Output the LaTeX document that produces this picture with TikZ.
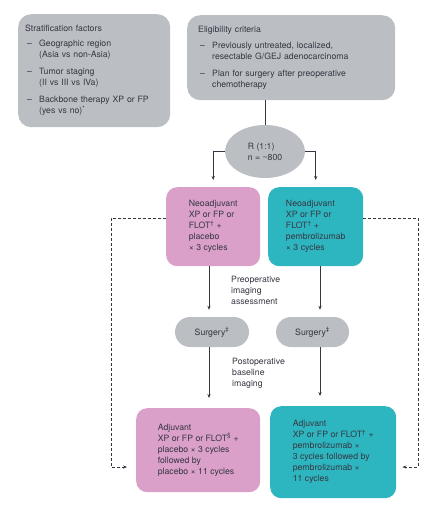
\documentclass[tikz,border=0pt]{standalone}
\usepackage{fontspec}
\setmainfont{TeX Gyre Heros}
\usepackage{tikz}
\usetikzlibrary{positioning}
\usetikzlibrary{shapes.geometric}
\usetikzlibrary{arrows.meta}
\definecolor{boxgray}{HTML}{BBBFC4}
\definecolor{armpink}{HTML}{DAA0C9}
\definecolor{armteal}{HTML}{2EB6C0}
\definecolor{inkgray}{HTML}{363642}
\newcommand{\critem}[2][6pt]{\par\vspace{#1}\hangindent=14pt\hangafter=1\noindent\makebox[14pt][l]{\hspace{2pt}–}#2}

\begin{document}
\begin{tikzpicture}[ x=1pt, y=-1pt,
    >={Stealth[length=4pt,width=3.2pt]},
    every node/.style={text=inkgray, font=\fontsize{8.7}{11}\selectfont},
    panel/.style={fill=boxgray, rounded corners=13pt, anchor=north west,
        align=left, inner ysep=0pt},
    arm/.style={rounded corners=11pt, anchor=north west, align=left, inner sep=0pt},
    pill/.style={fill=boxgray, rounded corners=15pt, minimum height=30pt, inner sep=0pt},
    flow/.style={->, draw=inkgray, line width=0.6pt, shorten >=7pt},
    crossover/.style={->, draw=inkgray, line width=0.6pt, dash pattern=on 3pt off 2pt} ]
    \useasboundingbox (0,0) rectangle (435,513);
    % columns and rows of the connectors
    \coordinate (colP) at (209,0);
    \coordinate (colT) at (320,0);
    \coordinate (dashtop) at (0,218);
    \coordinate (dashbot) at (0,467);
    \coordinate (dashL) at (111,0);
    \coordinate (dashR) at (418,0);
    % top panels
    \node (strat) [panel, text width=138pt, inner xsep=7pt, minimum height=113pt] at (18,14) {%
        Stratification factors
        \critem[4pt]{Geographic region\newline(Asia vs non-Asia)}
        \critem{Tumor staging\newline(II vs III vs IVa)}
        \critem{Backbone therapy XP or FP\newline(yes vs no)\textsuperscript{*}}\par};
    \node (elig) [panel, text width=186pt, inner xsep=11pt, minimum height=85pt] at (187,15) {%
        Eligibility criteria
        \critem[5pt]{Previously untreated, localized,\newline resectable G/GEJ adenocarcinoma}
        \critem{Plan for surgery after preoperative\newline chemotherapy}\par};
    \node (rand) [ellipse, fill=boxgray, minimum width=80pt, minimum height=53pt,
        align=left, inner sep=0pt] at (265,151.5) {R (1:1)\\n = \textasciitilde800};
    % arms
    \node (neoP) [arm, fill=armpink, minimum width=94pt, minimum height=79pt] at (166,187)
        {Neoadjuvant\\XP or FP or\\FLOT\textsuperscript{†} +\\placebo\\× 3 cycles};
    \node (neoT) [arm, fill=armteal, minimum width=95pt, minimum height=79pt] at (268,187)
        {Neoadjuvant\\XP or FP or\\FLOT\textsuperscript{†} +\\pembrolizumab\\× 3 cycles};
    \node (surgP) [pill, minimum width=74pt] at (212,332) {Surgery\textsuperscript{‡}};
    \node (surgT) [pill, minimum width=73pt] at (312.5,332) {Surgery\textsuperscript{‡}};
    \node (adjP) [arm, fill=armpink, minimum width=124pt, minimum height=84pt] at (136,408)
        {Adjuvant\\XP or FP or FLOT\textsuperscript{§} +\\placebo × 3 cycles\\followed by\\placebo × 11 cycles};
    \node (adjT) [arm, fill=armteal, minimum width=126pt, minimum height=92pt] at (270,406)
        {Adjuvant\\XP or FP or FLOT\textsuperscript{†} +\\pembrolizumab ×\\3 cycles followed by\\pembrolizumab ×\\11 cycles};
    \node (preimg) [anchor=west, align=left, inner sep=0pt] at (231,290)
        {Preoperative\\imaging\\assessment};
    \node (postimg) [anchor=west, align=left, inner sep=0pt] at (232,373)
        {Postoperative\\baseline\\imaging};
    % connectors
    \draw [draw=inkgray, line width=0.6pt] (elig.south -| rand) -- (rand.north);
    \draw [flow] (rand.west) -| (neoP.north);
    \draw [flow] (rand.east) -| (neoT.north);
    \draw [flow] (neoP.south -| colP) -- (surgP.north -| colP);
    \draw [flow] (neoT.south -| colT) -- (surgT.north -| colT);
    \draw [flow, shorten >=10pt] (surgP.south -| colP) -- (adjP.north -| colP);
    \draw [flow, shorten >=10pt] (surgT.south -| colT) -- (adjT.north -| colT);
    \draw [crossover, shorten >=9pt] (neoP.west |- dashtop) -| (dashL |- dashbot)
        -- (adjP.west |- dashbot);
    \draw [crossover, shorten >=6pt] (neoT.east |- dashtop) -| (dashR |- dashbot)
        -- (adjT.east |- dashbot);
\end{tikzpicture}
\end{document}
